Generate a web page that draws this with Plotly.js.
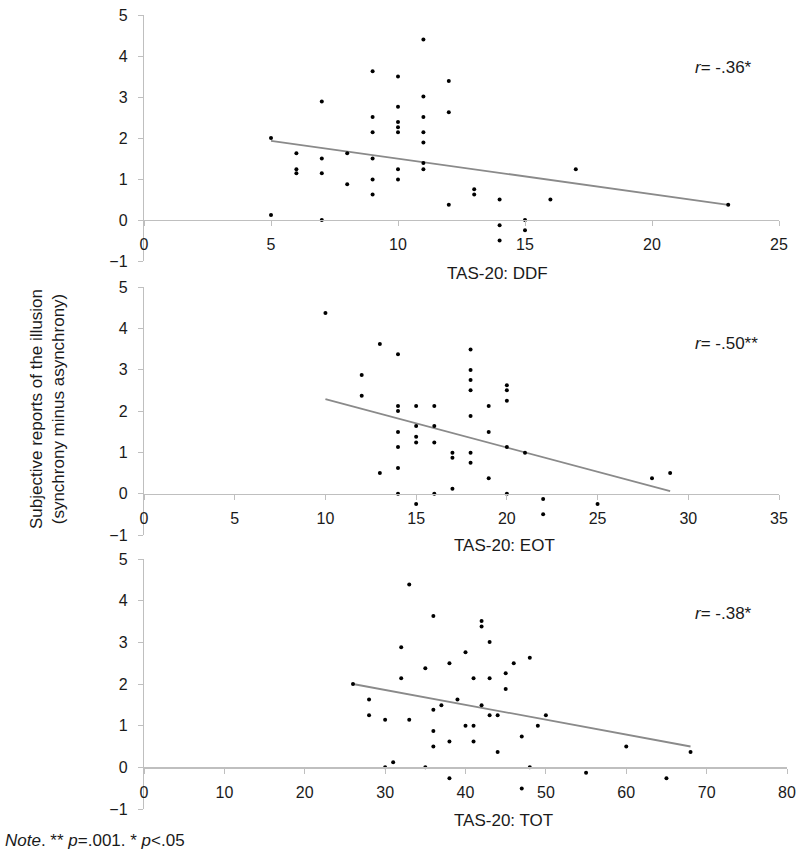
<!DOCTYPE html>
<html>
<head>
<meta charset="utf-8">
<script src="https://cdn.plot.ly/plotly-3.0.1.min.js"></script>
<style>
  html, body { margin: 0; padding: 0; background: white; }
  #chart { width: 800px; height: 857px; }
</style>
</head>
<body>
<div id="chart"></div>
<script>
// TAS-20 subscales vs. subjective reports of the illusion

// Panel 1: DDF
const ddfX = [5, 5, 6, 6, 6, 7, 7, 7, 7, 8, 8,
    9, 9, 9, 9, 9, 9, 10, 10, 10, 10, 10, 10, 10,
    11, 11, 11, 11, 11, 11, 11, 12, 12, 12, 13, 13,
    14, 14, 14, 15, 15, 16, 17, 23];
const ddfY = [2.0, 0.12, 1.63, 1.24, 1.14, 2.89, 1.5, 1.14, 0, 1.63, 0.87,
    3.63, 2.51, 2.14, 1.5, 0.99, 0.62, 3.5, 2.76, 2.39, 2.26, 2.14, 1.24, 0.99,
    4.4, 3.01, 2.51, 2.14, 1.89, 1.39, 1.24, 3.39, 2.63, 0.37, 0.75, 0.62,
    0.5, -0.13, -0.5, 0, -0.25, 0.5, 1.24, 0.37];
const ddfFitX = [5, 23];
const ddfFitY = [1.93, 0.37];

// Panel 2: EOT
const eotX = [10, 12, 12, 13, 13, 14, 14, 14, 14, 14, 14, 14,
    15, 15, 15, 15, 15, 16, 16, 16, 16, 17, 17, 17,
    18, 18, 18, 18, 18, 18, 18, 19, 19, 19, 20, 20, 20, 20, 20,
    21, 22, 22, 25, 28, 29];
const eotY = [4.37, 2.87, 2.37, 3.62, 0.5, 3.37, 2.12, 2.0, 1.49, 1.13, 0.62, 0,
    2.12, 1.64, 1.38, 1.24, -0.25, 2.12, 1.64, 1.24, 0, 0.99, 0.87, 0.12,
    3.49, 2.99, 2.75, 2.5, 1.88, 0.99, 0.75, 2.12, 1.49, 0.37, 2.62, 2.5, 2.25, 1.13, 0,
    0.99, -0.13, -0.5, -0.25, 0.37, 0.5];
const eotFitX = [10, 29];
const eotFitY = [2.29, 0.06];

// Panel 3: TOT
const totX = [26, 28, 28, 30, 30, 31, 32, 32, 33, 33, 35, 35,
    36, 36, 36, 36, 37, 38, 38, 38, 39, 40, 40,
    41, 41, 41, 42, 42, 42, 43, 43, 43, 44, 44, 45, 45, 46,
    47, 47, 48, 48, 49, 50, 55, 60, 65, 68];
const totY = [2.0, 1.63, 1.25, 1.14, 0, 0.12, 2.88, 2.14, 4.39, 1.14, 2.38, 0,
    3.63, 1.38, 0.87, 0.5, 1.49, 2.5, 0.62, -0.26, 1.63, 2.76, 1.0,
    2.14, 1.0, 0.62, 3.51, 3.38, 1.49, 3.01, 2.14, 1.25, 1.25, 0.37, 2.26, 1.88, 2.5,
    0.74, -0.51, 2.63, 0, 1.0, 1.25, -0.13, 0.5, -0.26, 0.37];
const totFitX = [26, 68];
const totFitY = [2.0, 0.5];

const xTitles = ['TAS-20: DDF', 'TAS-20: EOT', 'TAS-20: TOT'];
const rLabels = ['<i>r</i>= -.36*', '<i>r</i>= -.50**', '<i>r</i>= -.38*'];
const xRanges = [[0, 25], [0, 35], [0, 80]];
const xSteps = [5, 5, 10];

const W = 800, H = 857;
// pixel -> paper helpers
const px = x => x / W;
const py = y => (H - y) / H;

const FONT = '"Liberation Sans", Arial, sans-serif';
const AXIS_GREY = '#bfbfbf';

// plot boxes in pixels: left, right, top (y=5), bottom (y=-1)
const boxes = [
    {l: 144, r: 779, t: 15, b: 261},
    {l: 144, r: 779, t: 287, b: 535},
    {l: 144, r: 787, t: 559, b: 809}
];

const series = [
    [ddfX, ddfY, ddfFitX, ddfFitY],
    [eotX, eotY, eotFitX, eotFitY],
    [totX, totY, totFitX, totFitY]
];

const data = [];
const layout = {
    width: W,
    height: H,
    margin: {l: 0, r: 0, t: 0, b: 0},
    paper_bgcolor: 'white',
    plot_bgcolor: 'white',
    showlegend: false,
    font: {family: FONT, size: 16, color: '#1a1a1a'},
    annotations: []
};

series.forEach((s, i) => {
    const n = i === 0 ? '' : String(i + 1);
    data.push({
        x: s[2], y: s[3],
        type: 'scatter', mode: 'lines',
        line: {color: '#8a8a8a', width: 1.8},
        xaxis: 'x' + n, yaxis: 'y' + n,
        hoverinfo: 'skip'
    });
    data.push({
        x: s[0], y: s[1],
        type: 'scatter', mode: 'markers',
        marker: {color: '#000', size: 4},
        xaxis: 'x' + n, yaxis: 'y' + n
    });

    const b = boxes[i];
    const y0 = py(b.b), y1 = py(b.t);
    // x axis crosses the y axis at 0
    const zeroPos = y0 + (y1 - y0) / 6;

    layout['xaxis' + n] = {
        domain: [px(b.l), px(b.r)],
        range: xRanges[i],
        dtick: xSteps[i],
        tick0: 0,
        anchor: 'free',
        position: zeroPos,
        showline: true,
        linecolor: AXIS_GREY,
        linewidth: 1.2,
        ticks: 'outside',
        ticklen: 5,
        tickcolor: AXIS_GREY,
        ticklabelstandoff: 5,
        showgrid: false,
        zeroline: false,
        tickfont: {size: 16, color: '#1a1a1a'}
    };
    layout['yaxis' + n] = {
        domain: [y0, y1],
        range: [-1, 5],
        dtick: 1,
        anchor: 'x' + n,
        showline: true,
        linecolor: AXIS_GREY,
        linewidth: 1.2,
        ticks: 'outside',
        ticklen: 5,
        tickcolor: AXIS_GREY,
        ticklabelstandoff: 7,
        showgrid: false,
        zeroline: false,
        tickfont: {size: 16, color: '#1a1a1a'}
    };
});

// axis titles and correlation labels
const xTitlePos = [[497, 273], [504, 545], [503, 820]];
const rPos = [[693, 67], [693, 343], [693, 613]];
xTitles.forEach((t, i) => {
    layout.annotations.push({
        text: t, xref: 'paper', yref: 'paper',
        x: px(xTitlePos[i][0]), y: py(xTitlePos[i][1]),
        xanchor: 'center', yanchor: 'middle', showarrow: false,
        font: {size: 17, color: '#1a1a1a'}
    });
    layout.annotations.push({
        text: rLabels[i], xref: 'paper', yref: 'paper',
        x: px(rPos[i][0]), y: py(rPos[i][1]),
        xanchor: 'left', yanchor: 'middle', showarrow: false,
        font: {size: 17, color: '#1a1a1a'}
    });
});

layout.annotations.push({
    text: 'Subjective reports of the illusion<br>(synchrony minus asynchrony)',
    xref: 'paper', yref: 'paper',
    x: px(47), y: py(409),
    xanchor: 'center', yanchor: 'middle',
    textangle: -90, showarrow: false,
    font: {size: 17, color: '#1a1a1a'}
});

layout.annotations.push({
    text: '<i>Note</i>. ** <i>p</i>=.001. * <i>p</i>&lt;.05',
    xref: 'paper', yref: 'paper',
    x: px(3), y: py(840),
    xanchor: 'left', yanchor: 'middle', showarrow: false,
    font: {size: 17, color: '#1a1a1a'}
});

Plotly.newPlot('chart', data, layout, {staticPlot: true});
</script>
</body>
</html>
